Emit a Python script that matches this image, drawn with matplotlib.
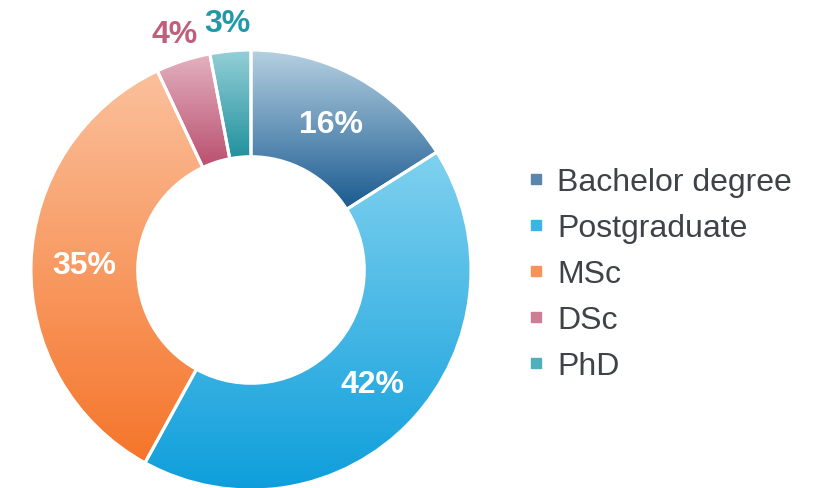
import numpy as np
import matplotlib
matplotlib.use("Agg")
import matplotlib.pyplot as plt
from matplotlib.patches import Wedge
from matplotlib.lines import Line2D
from matplotlib.colors import LinearSegmentedColormap

plt.rcParams['font.family'] = ['Liberation Sans', 'DejaVu Sans']

categories = ["Bachelor degree", "Postgraduate", "MSc", "DSc", "PhD"]
values = [16, 42, 35, 4, 3]
labels = ["16%", "42%", "35%", "4%", "3%"]
top_colors = ["#b6d1e1", "#80d1ef", "#fbc09c", "#e3b2c0", "#95cfd8"]
bottom_colors = ["#1a5a90", "#0e9edb", "#f5752a", "#ba5070", "#20919d"]
legend_colors = ["#5b86ab", "#3db4e6", "#f8915a", "#cf7d95", "#4fb0bc"]
outside = [False, False, False, True, True]
label_colors = ["white", "white", "white", "#c05f7b", "#2299a8"]

W, H = 818, 489
fig = plt.figure(figsize=(W / 100, H / 100), dpi=100)
ax = fig.add_axes([0, 0, 1, 1])
ax.set_xlim(0, W)
ax.set_ylim(0, H)
ax.set_aspect('equal')
ax.axis('off')

cx, cy = 251, 489 - 271
R = 220
width = 0.485 * R

total = sum(values)
start = 90.0
for i, v in enumerate(values):
    sweep = 360.0 * v / total
    t2 = start
    t1 = start - sweep
    w = Wedge((cx, cy), R, t1, t2, width=width, facecolor='none', edgecolor='none')
    ax.add_patch(w)
    th = np.deg2rad(np.linspace(t1, t2, 400))
    xs = np.concatenate([cx + R * np.cos(th), cx + (R - width) * np.cos(th)])
    ys = np.concatenate([cy + R * np.sin(th), cy + (R - width) * np.sin(th)])
    ymin, ymax = ys.min(), ys.max()
    xmin, xmax = xs.min(), xs.max()
    cmap = LinearSegmentedColormap.from_list("g%d" % i, [bottom_colors[i], top_colors[i]])
    grad = np.linspace(0, 1, 256).reshape(-1, 1)
    im = ax.imshow(grad, cmap=cmap, extent=(xmin, xmax, ymin, ymax), origin='lower',
                   aspect='auto', interpolation='bilinear', zorder=1)
    im.set_clip_path(w)
    edge = Wedge((cx, cy), R, t1, t2, width=width, facecolor='none', edgecolor='white',
                 linewidth=2.2, zorder=2)
    ax.add_patch(edge)
    mid = np.deg2rad((t1 + t2) / 2)
    if outside[i]:
        r = R + 28
    else:
        r = R - width / 2
    ax.text(cx + r * np.cos(mid), cy + r * np.sin(mid), labels[i], ha='center', va='center',
            fontsize=23, fontweight='bold', color=label_colors[i], zorder=3)
    start = t1

ax.set_xlim(0, W)
ax.set_ylim(0, H)

handles = [Line2D([], [], marker='s', linestyle='none', markersize=7,
                  markerfacecolor=c, markeredgecolor=c) for c in legend_colors]
leg = ax.legend(handles, categories, loc='center left', bbox_to_anchor=(527 / W, 1 - 275 / H),
                frameon=False, fontsize=23, labelcolor='#3f4347', handlelength=0.55,
                handletextpad=0.4, labelspacing=0.5, borderpad=0, borderaxespad=0)

fig.savefig("out.png", dpi=100)
